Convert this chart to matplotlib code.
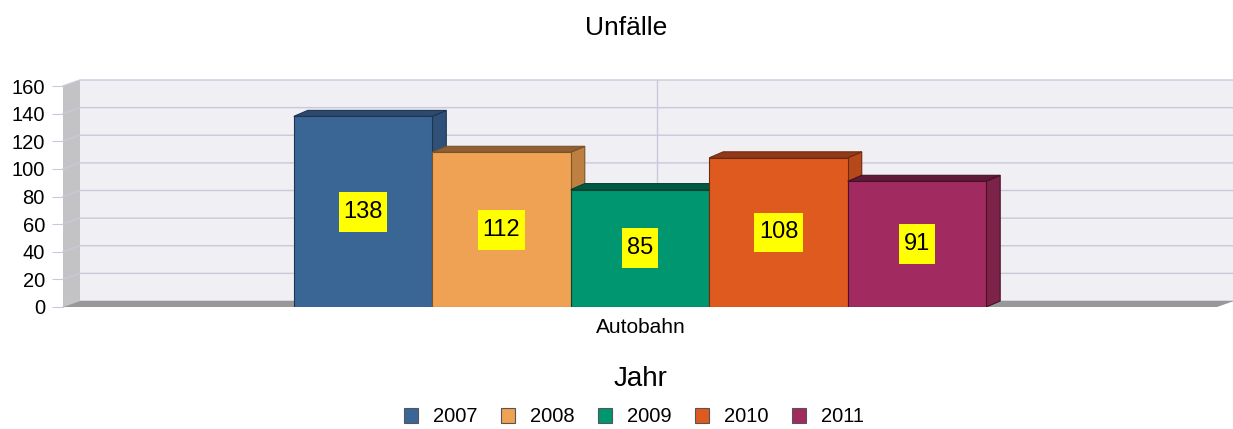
import matplotlib
matplotlib.use("Agg")
from matplotlib import pyplot as plt
from matplotlib.patches import Polygon, Patch
from matplotlib.path import Path

plt.rcParams["font.family"] = ["Liberation Sans", "DejaVu Sans"]

# data
category = "Autobahn"
years = ["2007", "2008", "2009", "2010", "2011"]
values = [138, 112, 85, 108, 91]
y_ticks = [0, 20, 40, 60, 80, 100, 120, 140, 160]

# colours: front, side, top
front_colors = ["#3A6696", "#EFA253", "#009670", "#DE5A1F", "#A12B60"]
side_colors = ["#2F5079", "#BE8040", "#007556", "#B7481A", "#7D2249"]
top_colors = ["#2C4A6E", "#8E6034", "#005A43", "#93391A", "#5E1A38"]
edge_colors = ["#1E3550", "#7A5428", "#004433", "#6E2A0E", "#4A1028"]


# label box a bit taller than wide padding
def label_box(x0, y0, width, height, mutation_size):
    px = 0.2 * mutation_size
    py = 0.375 * mutation_size
    x0, y0 = x0 - px, y0 - py
    x1, y1 = x0 + width + 2 * px, y0 + height + 2 * py
    return Path([(x0, y0), (x1, y0), (x1, y1), (x0, y1), (x0, y0)], closed=True)


fig = plt.figure(figsize=(12.33, 4.29), dpi=100)
ax = fig.add_axes([63 / 1233, 122 / 429, 1154 / 1233, 221 / 429])
ax.set_xlim(-0.5, 0.5)
ax.set_ylim(0, 160)

# 3d offsets in data units
wdx, wdy = 17 / 1154, 6 / 1.38125
bdx, bdy = 14 / 1154, 6 / 1.38125

# walls
back = Polygon([(-0.5 + wdx, wdy), (0.5 + wdx, wdy), (0.5 + wdx, 160 + wdy), (-0.5 + wdx, 160 + wdy)],
               closed=True, fc="#EFEFF4", ec="none", clip_on=False, zorder=0)
ax.add_patch(back)
side = Polygon([(-0.5, 0), (-0.5 + wdx, wdy), (-0.5 + wdx, 160 + wdy), (-0.5, 160)],
               closed=True, fc="#C3C3C6", ec="none", clip_on=False, zorder=0.5)
ax.add_patch(side)
for v in y_ticks:
    ax.plot([-0.5, -0.5 + wdx, 0.5 + wdx], [v, v + wdy, v + wdy], color="#C9C9DC",
            lw=1, clip_on=False, zorder=1)
ax.plot([wdx, wdx], [wdy, 160 + wdy], color="#C9C9DC", lw=1, clip_on=False, zorder=1)
floor = Polygon([(-0.5, 0), (-0.5 + wdx, wdy), (0.5 + wdx, wdy), (0.5, 0)],
                closed=True, fc="#989898", ec="none", clip_on=False, zorder=1.5)
ax.add_patch(floor)

# bars
width = 0.12
n = len(values)
for i in range(n):
    x = (i - (n - 1) / 2) * width
    x0, x1 = x - width / 2, x + width / 2
    v = values[i]
    z = 2 + i * 3
    ax.add_patch(Polygon([(x1, 0), (x1, v), (x1 + bdx, v + bdy), (x1 + bdx, bdy)], closed=True,
                         fc=side_colors[i], ec=edge_colors[i], lw=0.8, zorder=z))
    ax.add_patch(Polygon([(x0, v), (x1, v), (x1 + bdx, v + bdy), (x0 + bdx, v + bdy)], closed=True,
                         fc=top_colors[i], ec=edge_colors[i], lw=0.8, zorder=z + 1))
    ax.bar(x, v, width, color=front_colors[i], edgecolor=edge_colors[i], lw=0.8, zorder=z + 2)
    ax.text(x, v / 2, str(v), ha="center", va="center", fontsize=17, zorder=50,
            bbox=dict(boxstyle=label_box, fc="#FFFF00", ec="none"))

for s in ax.spines.values():
    s.set_visible(False)
ax.set_yticks(y_ticks)
ax.tick_params(axis="y", length=8, color="#C9C9DC", labelsize=14.5, pad=5)
ax.set_xticks([])

fig.text(626 / 1233, 1 - 35 / 429, "Unfälle", ha="center", va="baseline", fontsize=19)
fig.text(641 / 1233, 1 - 333 / 429, category, ha="center", va="baseline", fontsize=15)
fig.text(641 / 1233, 1 - 386 / 429, "Jahr", ha="center", va="baseline", fontsize=20)

handles = [Patch(fc=front_colors[i], ec="#555555", lw=0.8) for i in range(n)]
fig.legend(handles, years, loc="center", bbox_to_anchor=(634 / 1233, 1 - 417 / 429), ncol=n,
           frameon=False, fontsize=14.5, handlelength=0.7, handleheight=0.7,
           handletextpad=0.75, columnspacing=1.15)

fig.savefig("out.png", dpi=100)
